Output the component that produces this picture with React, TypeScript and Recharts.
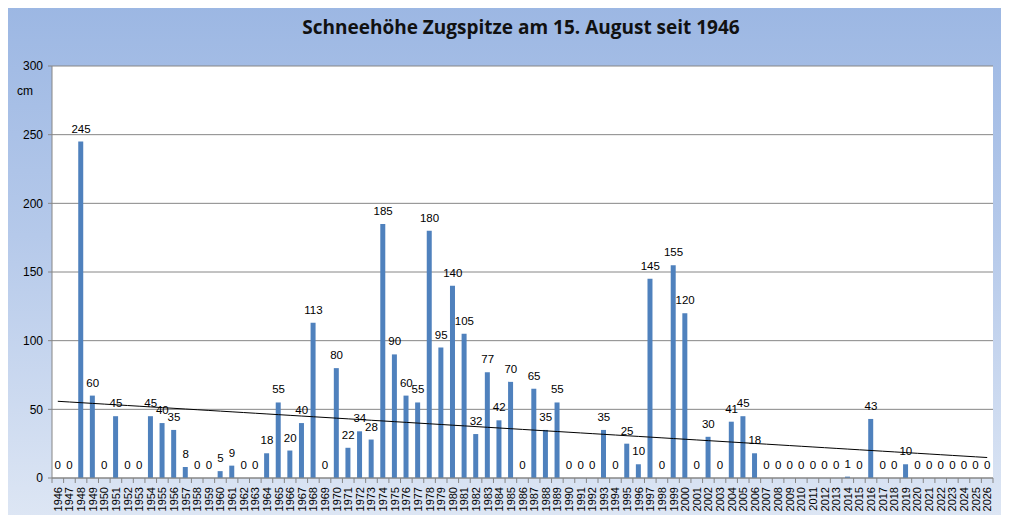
import React from "react"
import { ComposedChart, Bar, Line, XAxis, YAxis, CartesianGrid, LabelList } from "recharts"

// Schneehöhe in cm am 15. August
const years = [
  1946, 1947, 1948, 1949, 1950, 1951, 1952, 1953, 1954, 1955, 1956, 1957, 1958, 1959, 1960, 1961,
  1962, 1963, 1964, 1965, 1966, 1967, 1968, 1969, 1970, 1971, 1972, 1973, 1974, 1975, 1976, 1977,
  1978, 1979, 1980, 1981, 1982, 1983, 1984, 1985, 1986, 1987, 1988, 1989, 1990, 1991, 1992, 1993,
  1994, 1995, 1996, 1997, 1998, 1999, 2000, 2001, 2002, 2003, 2004, 2005, 2006, 2007, 2008, 2009,
  2010, 2011, 2012, 2013, 2014, 2015, 2016, 2017, 2018, 2019, 2020, 2021, 2022, 2023, 2024, 2025, 2026,
]

const snowDepth = [
  0, 0, 245, 60, 0, 45, 0, 0, 45, 40, 35, 8, 0, 0, 5, 9,
  0, 0, 18, 55, 20, 40, 113, 0, 80, 22, 34, 28, 185, 90, 60, 55,
  180, 95, 140, 105, 32, 77, 42, 70, 0, 65, 35, 55, 0, 0, 0, 35,
  0, 25, 10, 145, 0, 155, 120, 0, 30, 0, 41, 45, 18, 0, 0, 0,
  0, 0, 0, 0, 1, 0, 43, 0, 0, 10, 0, 0, 0, 0, 0, 0, 0,
]

const yTicks = [0, 50, 100, 150, 200, 250, 300]

// linear trend (least squares over all categories, like Excel's trendline)
const n = snowDepth.length
const meanX = (n - 1) / 2
const meanY = snowDepth.reduce((a, b) => a + b, 0) / n
let sxy = 0
let sxx = 0
snowDepth.forEach((v, i) => {
  sxy += (i - meanX) * (v - meanY)
  sxx += (i - meanX) * (i - meanX)
})
const slope = sxy / sxx

const data = years.map((year, i) => ({
  year: String(year),
  value: snowDepth[i],
  trend: meanY + slope * (i - meanX),
}))

const CHART_W = 1004
const CHART_H = 514
const PLOT_LEFT = 47
const PLOT_RIGHT = 16
const bandWidth = (CHART_W - PLOT_LEFT - PLOT_RIGHT) / years.length

const FONT = "'Liberation Sans', Arial, sans-serif"
const GRID = "#868686"

const YearTick = (props: any) => {
  const { x, y, payload, index } = props
  const last = index === years.length - 1
  return (
    <g>
      <line x1={x - bandWidth / 2} y1={y} x2={x - bandWidth / 2} y2={y + 5} stroke={GRID} />
      {last && <line x1={x + bandWidth / 2} y1={y} x2={x + bandWidth / 2} y2={y + 5} stroke={GRID} />}
      <text
        transform={`translate(${x + 4},${y + 9}) rotate(-90)`}
        textAnchor="end"
        fontSize={11}
        fontFamily={FONT}
        fill="#000"
      >
        {payload.value}
      </text>
    </g>
  )
}

export default function App() {
  return (
    <div style={{ margin: -8, width: 1009, height: 523, position: "relative", background: "#fff", overflow: "hidden" }}>
      <div
        style={{
          position: "absolute",
          left: 5,
          top: 4,
          width: CHART_W,
          height: CHART_H,
          borderTop: `1px solid ${GRID}`,
          borderLeft: `1px solid ${GRID}`,
          borderBottom: `1px solid ${GRID}`,
          boxSizing: "border-box",
          background: "linear-gradient(to bottom, #9cb7e3 0%, #b5c9ea 45%, #dde6f4 100%)",
        }}
      />
      <div
        style={{
          position: "absolute",
          left: 5,
          top: 14,
          width: 1032,
          textAlign: "center",
          fontFamily: "'Open Sans', sans-serif",
          fontWeight: 700,
          fontSize: 19,
          color: "#111",
        }}
      >
        Schneehöhe Zugspitze am 15. August seit 1946
      </div>
      <div style={{ position: "absolute", left: 17, top: 84, fontFamily: FONT, fontSize: 12 }}>cm</div>
      <div style={{ position: "absolute", left: 707, top: 93, fontFamily: FONT, fontSize: 12, lineHeight: "17px" }}>
        Daten: DWD
        <br />
        Grafik: Klaus Paetzold
      </div>
      <div style={{ position: "absolute", left: 5, top: 4 }}>
        <ComposedChart
          width={CHART_W}
          height={CHART_H}
          data={data}
          margin={{ top: 62, right: PLOT_RIGHT, bottom: 0, left: 0 }}
          barCategoryGap={0}
        >
          <CartesianGrid vertical={false} stroke={GRID} fill="#fff" />
          <XAxis
            dataKey="year"
            interval={0}
            height={40}
            tickLine={false}
            tickSize={0}
            tickMargin={0}
            stroke={GRID}
            tick={<YearTick />}
          />
          <YAxis
            width={PLOT_LEFT}
            domain={[0, 300]}
            ticks={yTicks}
            tickSize={4}
            tickMargin={5}
            stroke={GRID}
            tick={{ fill: "#000", fontSize: 12, fontFamily: FONT }}
          />
          <Bar dataKey="value" fill="#4f81bd" barSize={5} isAnimationActive={false} />
          {/* invisible series carrying the value labels, so zeros get a label too */}
          <Line
            dataKey="value"
            stroke="none"
            dot={false}
            activeDot={false}
            isAnimationActive={false}
          >
            <LabelList dataKey="value" position="top" offset={9} fill="#000" fontSize={11.5} fontFamily={FONT} />
          </Line>
          <Line
            dataKey="trend"
            type="linear"
            stroke="#000"
            strokeWidth={1}
            dot={false}
            activeDot={false}
            isAnimationActive={false}
          />
        </ComposedChart>
      </div>
    </div>
  )
}
